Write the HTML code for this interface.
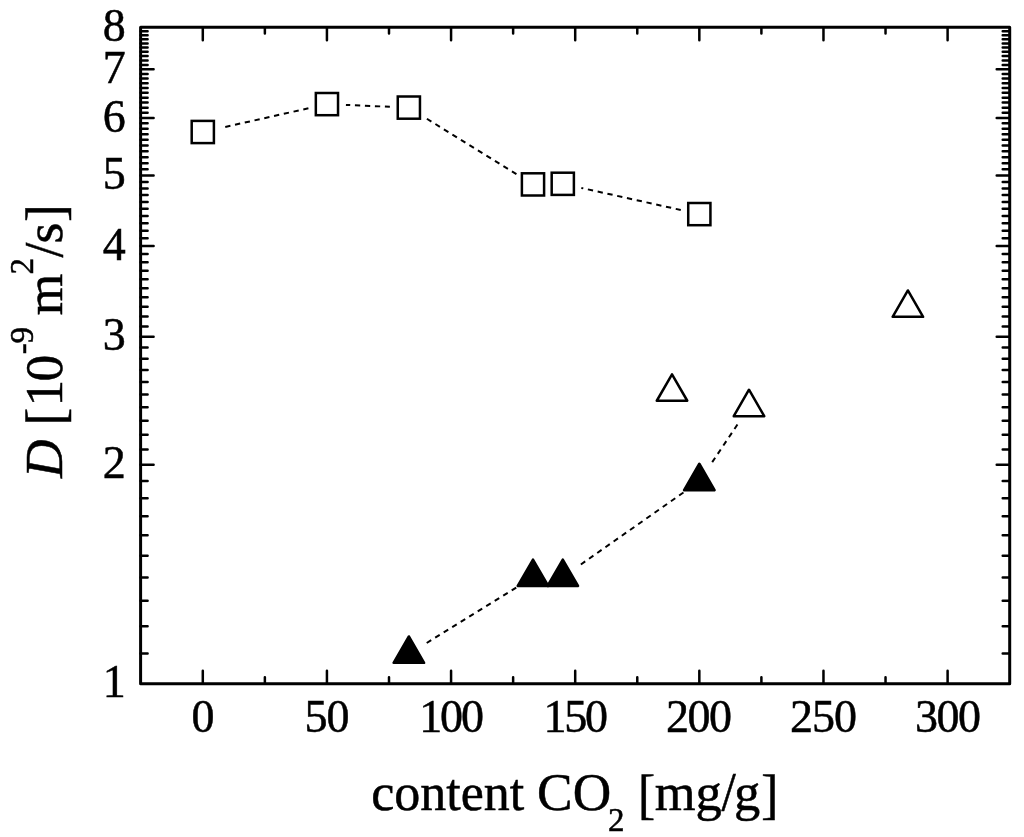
<!DOCTYPE html>
<html><head><meta charset="utf-8"><style>html,body{margin:0;padding:0;background:#fff;width:1024px;height:837px;overflow:hidden}svg{display:block;will-change:transform}text{font-family:"Liberation Serif";stroke:#000;stroke-width:0.5px}</style></head>
<body><svg width="1024" height="837" viewBox="0 0 1024 837">
<rect width="1024" height="837" fill="#fff"/>
<g stroke="#000" stroke-width="2" stroke-dasharray="5.3 4.7" fill="none"><line x1="221.34" y1="127.83" x2="308.40" y2="108.27" stroke-dashoffset="6.00"/><line x1="345.92" y1="104.91" x2="389.88" y2="106.79" stroke-dashoffset="1.00"/><line x1="425.02" y1="117.60" x2="516.84" y2="174.40" stroke-dashoffset="7.80"/><line x1="581.34" y1="187.92" x2="680.78" y2="209.98" stroke-dashoffset="3.30"/><line x1="425.01" y1="644.04" x2="516.84" y2="587.15" stroke-dashoffset="8.00"/><line x1="578.34" y1="566.23" x2="683.78" y2="492.26" stroke-dashoffset="6.90"/><line x1="709.92" y1="465.57" x2="738.40" y2="423.12" stroke-dashoffset="5.90"/></g>
<rect x="191.70" y="120.90" width="22.2" height="22.2" fill="#fff" stroke="#000" stroke-width="2.5"/><rect x="315.83" y="93.00" width="22.2" height="22.2" fill="#fff" stroke="#000" stroke-width="2.5"/><rect x="397.76" y="96.50" width="22.2" height="22.2" fill="#fff" stroke="#000" stroke-width="2.5"/><rect x="521.89" y="173.30" width="22.2" height="22.2" fill="#fff" stroke="#000" stroke-width="2.5"/><rect x="551.69" y="172.70" width="22.2" height="22.2" fill="#fff" stroke="#000" stroke-width="2.5"/><rect x="688.23" y="203.00" width="22.2" height="22.2" fill="#fff" stroke="#000" stroke-width="2.5"/><path d="M408.86 636.44L424.11 662.85L393.61 662.85Z" fill="#000" stroke="#000" stroke-width="2.5" stroke-linejoin="round"/><path d="M532.99 559.54L548.24 585.95L517.74 585.95Z" fill="#000" stroke="#000" stroke-width="2.5" stroke-linejoin="round"/><path d="M562.79 559.54L578.04 585.95L547.54 585.95Z" fill="#000" stroke="#000" stroke-width="2.5" stroke-linejoin="round"/><path d="M699.33 463.74L714.58 490.15L684.08 490.15Z" fill="#000" stroke="#000" stroke-width="2.5" stroke-linejoin="round"/><path d="M672.02 374.34L687.27 400.75L656.77 400.75Z" fill="#fff" stroke="#000" stroke-width="2.5" stroke-linejoin="round"/><path d="M748.99 389.74L764.24 416.15L733.74 416.15Z" fill="#fff" stroke="#000" stroke-width="2.5" stroke-linejoin="round"/><path d="M907.88 290.44L923.13 316.85L892.63 316.85Z" fill="#fff" stroke="#000" stroke-width="2.5" stroke-linejoin="round"/>
<rect x="140.6" y="27.2" width="869.10" height="656.50" fill="none" stroke="#000" stroke-width="3" stroke-linejoin="round"/>
<path d="M202.80 683.70V670.70M202.80 27.20V40.20M264.87 683.70V677.30M264.87 27.20V33.60M326.93 683.70V670.70M326.93 27.20V40.20M389.00 683.70V677.30M389.00 27.20V33.60M451.07 683.70V670.70M451.07 27.20V40.20M513.13 683.70V677.30M513.13 27.20V33.60M575.20 683.70V670.70M575.20 27.20V40.20M637.27 683.70V677.30M637.27 27.20V33.60M699.33 683.70V670.70M699.33 27.20V40.20M761.40 683.70V677.30M761.40 27.20V33.60M823.47 683.70V670.70M823.47 27.20V40.20M885.53 683.70V677.30M885.53 27.20V33.60M947.60 683.70V670.70M947.60 27.20V40.20M140.60 653.61H147.60M1009.70 653.61H1002.70M140.60 626.14H147.60M1009.70 626.14H1002.70M140.60 600.87H147.60M1009.70 600.87H1002.70M140.60 577.47H147.60M1009.70 577.47H1002.70M140.60 555.69H147.60M1009.70 555.69H1002.70M140.60 535.32H147.60M1009.70 535.32H1002.70M140.60 516.18H147.60M1009.70 516.18H1002.70M140.60 498.13H147.60M1009.70 498.13H1002.70M140.60 481.06H147.60M1009.70 481.06H1002.70M140.60 464.87H153.60M1009.70 464.87H996.70M140.60 449.46H147.60M1009.70 449.46H1002.70M140.60 434.78H147.60M1009.70 434.78H1002.70M140.60 420.74H147.60M1009.70 420.74H1002.70M140.60 407.31H147.60M1009.70 407.31H1002.70M140.60 394.42H147.60M1009.70 394.42H1002.70M140.60 382.04H147.60M1009.70 382.04H1002.70M140.60 370.12H147.60M1009.70 370.12H1002.70M140.60 358.64H147.60M1009.70 358.64H1002.70M140.60 347.56H147.60M1009.70 347.56H1002.70M140.60 336.86H153.60M1009.70 336.86H996.70M140.60 326.51H147.60M1009.70 326.51H1002.70M140.60 316.48H147.60M1009.70 316.48H1002.70M140.60 306.77H147.60M1009.70 306.77H1002.70M140.60 297.34H147.60M1009.70 297.34H1002.70M140.60 288.19H147.60M1009.70 288.19H1002.70M140.60 279.30H147.60M1009.70 279.30H1002.70M140.60 270.65H147.60M1009.70 270.65H1002.70M140.60 262.23H147.60M1009.70 262.23H1002.70M140.60 254.03H147.60M1009.70 254.03H1002.70M140.60 246.03H153.60M1009.70 246.03H996.70M140.60 238.24H147.60M1009.70 238.24H1002.70M140.60 230.63H147.60M1009.70 230.63H1002.70M140.60 223.20H147.60M1009.70 223.20H1002.70M140.60 215.94H147.60M1009.70 215.94H1002.70M140.60 208.85H147.60M1009.70 208.85H1002.70M140.60 201.91H147.60M1009.70 201.91H1002.70M140.60 195.12H147.60M1009.70 195.12H1002.70M140.60 188.47H147.60M1009.70 188.47H1002.70M140.60 181.96H147.60M1009.70 181.96H1002.70M140.60 175.58H153.60M1009.70 175.58H996.70M140.60 169.33H147.60M1009.70 169.33H1002.70M140.60 163.20H147.60M1009.70 163.20H1002.70M140.60 157.19H147.60M1009.70 157.19H1002.70M140.60 151.29H147.60M1009.70 151.29H1002.70M140.60 145.49H147.60M1009.70 145.49H1002.70M140.60 139.81H147.60M1009.70 139.81H1002.70M140.60 134.22H147.60M1009.70 134.22H1002.70M140.60 128.73H147.60M1009.70 128.73H1002.70M140.60 123.33H147.60M1009.70 123.33H1002.70M140.60 118.02H153.60M1009.70 118.02H996.70M140.60 112.81H147.60M1009.70 112.81H1002.70M140.60 107.67H147.60M1009.70 107.67H1002.70M140.60 102.62H147.60M1009.70 102.62H1002.70M140.60 97.65H147.60M1009.70 97.65H1002.70M140.60 92.75H147.60M1009.70 92.75H1002.70M140.60 87.93H147.60M1009.70 87.93H1002.70M140.60 83.19H147.60M1009.70 83.19H1002.70M140.60 78.51H147.60M1009.70 78.51H1002.70M140.60 73.90H147.60M1009.70 73.90H1002.70M140.60 69.36H153.60M1009.70 69.36H996.70M140.60 64.88H147.60M1009.70 64.88H1002.70M140.60 60.46H147.60M1009.70 60.46H1002.70M140.60 56.11H147.60M1009.70 56.11H1002.70M140.60 51.81H147.60M1009.70 51.81H1002.70M140.60 47.58H147.60M1009.70 47.58H1002.70M140.60 43.39H147.60M1009.70 43.39H1002.70M140.60 39.27H147.60M1009.70 39.27H1002.70M140.60 35.19H147.60M1009.70 35.19H1002.70M140.60 31.17H147.60M1009.70 31.17H1002.70" stroke="#000" stroke-width="2.5" stroke-linecap="round" fill="none"/>
<g font-family="Liberation Serif" font-size="46" fill="#000"><text x="125.8" y="697.30" text-anchor="end">1</text><text x="125.8" y="478.47" text-anchor="end">2</text><text x="125.8" y="350.46" text-anchor="end">3</text><text x="125.8" y="259.63" text-anchor="end">4</text><text x="125.8" y="189.18" text-anchor="end">5</text><text x="125.8" y="131.62" text-anchor="end">6</text><text x="125.8" y="82.96" text-anchor="end">7</text><text x="125.8" y="40.80" text-anchor="end">8</text><text x="191.4" y="731.8">0</text><text x="304.4" y="731.8" letter-spacing="-1">50</text><text x="419.3" y="731.8" letter-spacing="-2.2">100</text><text x="543.5" y="731.8" letter-spacing="-2.2">150</text><text x="666.1" y="731.8" letter-spacing="-1.5">200</text><text x="790.1" y="731.8" letter-spacing="-1">250</text><text x="915.05" y="731.8" letter-spacing="-1.5">300</text></g>
<g font-family="Liberation Serif" fill="#000"><text x="371.20" y="810.30" font-size="52">content</text><text x="537.10" y="810.30" font-size="53.3">CO</text><text x="608.10" y="831.00" font-size="33">2</text><text transform="translate(637.90 813.20) scale(1 1.068)" font-size="51.3">[</text><text x="654.70" y="810.30" font-size="52.5">mg</text><text transform="translate(721.40 810.30) scale(1 1.085)" font-size="51.3">/</text><text x="733.99" y="810.30" font-size="52.5">g</text><text transform="translate(761.26 813.20) scale(1 1.068)" font-size="51.3">]</text></g>
<g font-family="Liberation Serif" fill="#000" transform="translate(61.8 477.9) rotate(-90)"><text x="0.00" y="0.00" font-size="53.5" font-style="italic">D</text><text transform="translate(52.50 2.60) scale(1 1.029)" font-size="53.5">[</text><text x="71.50" y="0.00" font-size="53.5">1</text><text x="96.50" y="0.00" font-size="53.5">0</text><text x="123.60" y="-28.40" font-size="33">-</text><text x="134.40" y="-28.40" font-size="33">9</text><text x="162.60" y="0.00" font-size="53.5">m</text><text x="203.40" y="-28.40" font-size="33">2</text><text transform="translate(220.40 0.00) scale(1 1.045)" font-size="53.5">/</text><text x="234.50" y="0.00" font-size="53.5">s</text><text transform="translate(255.80 2.40) scale(1 1.029)" font-size="53.5">]</text></g>
</svg></body></html>
